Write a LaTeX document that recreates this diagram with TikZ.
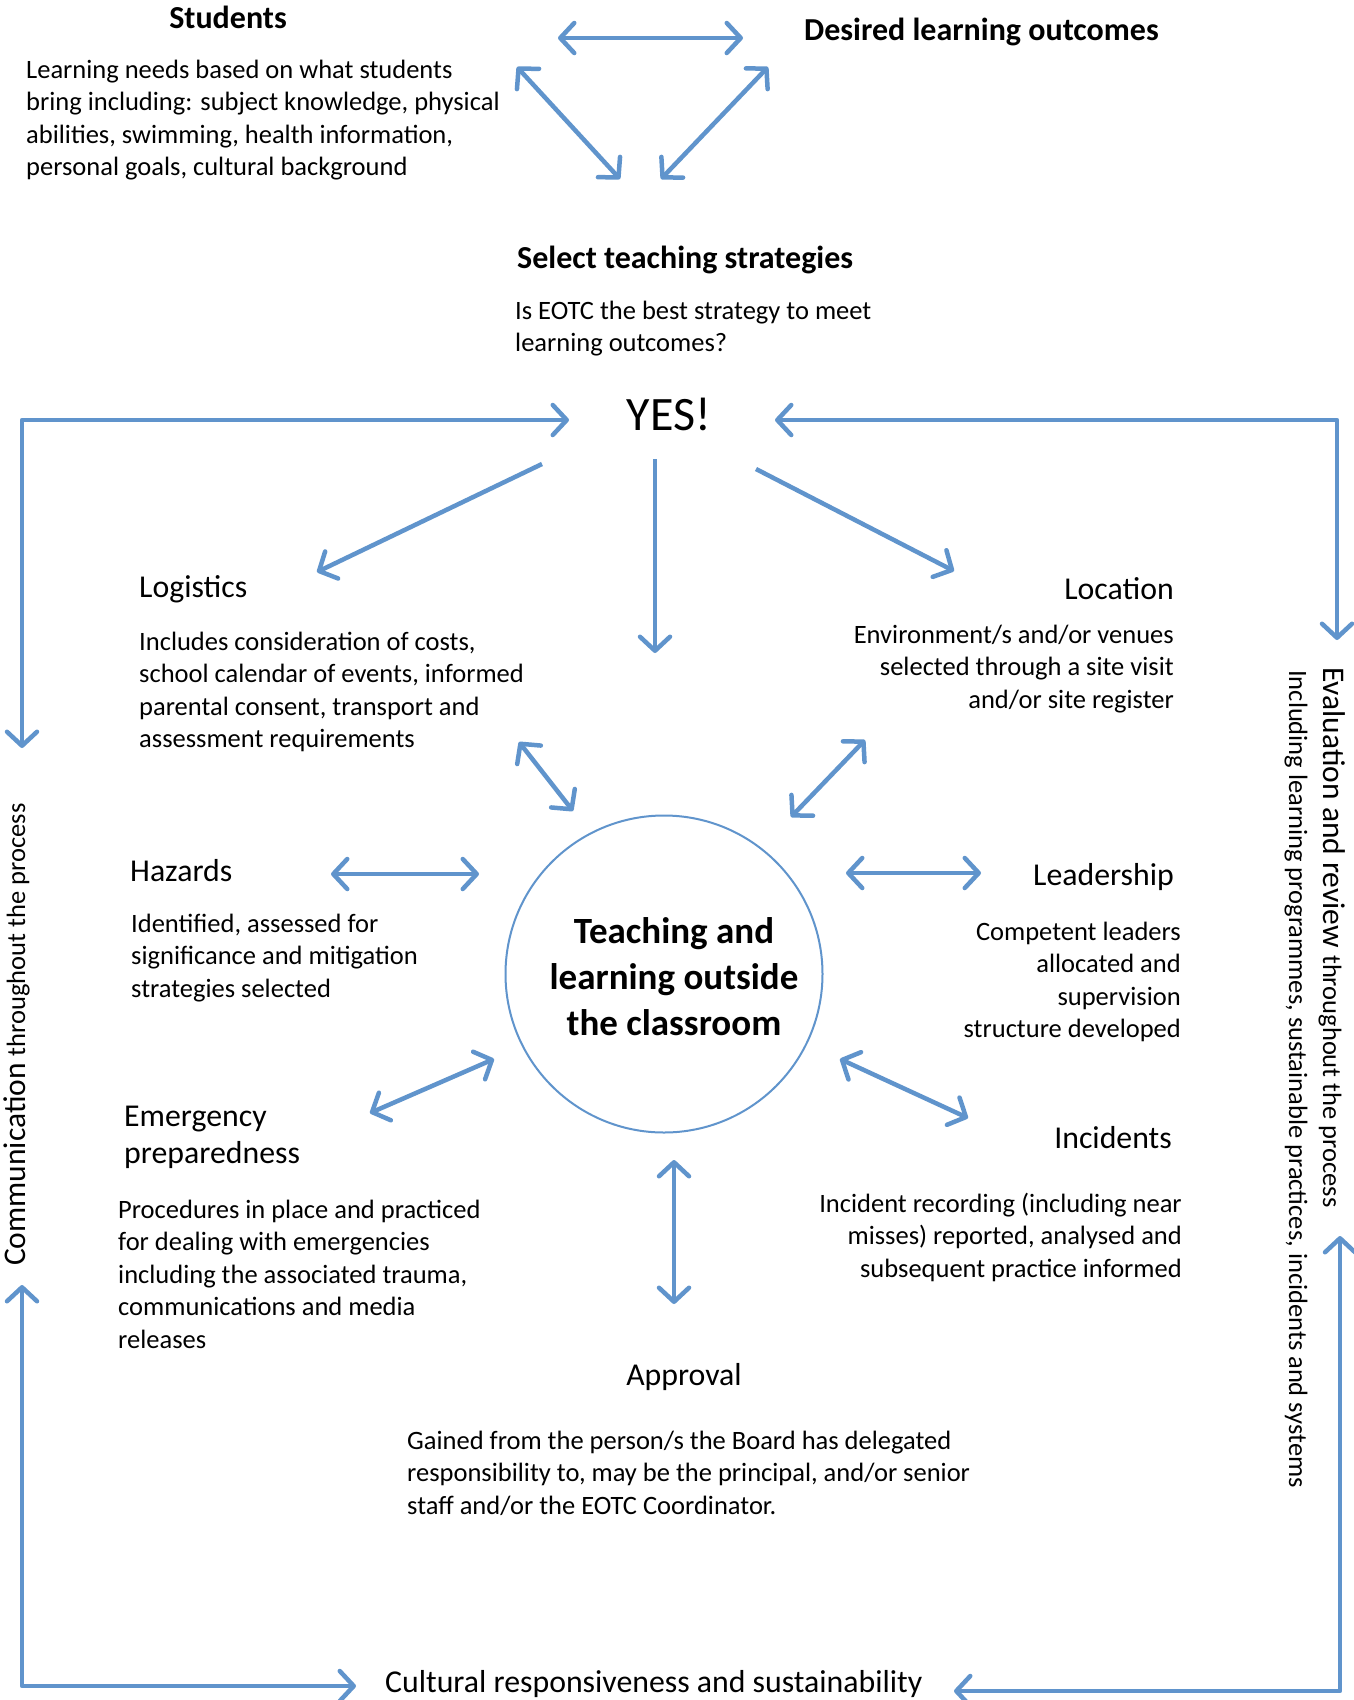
\documentclass[tikz,border=0pt]{standalone}
\usepackage{fontspec}
\setmainfont{Carlito}
\usetikzlibrary{arrows.meta}
\definecolor{arr}{RGB}{96,148,204}
\begin{document}
\begin{tikzpicture}[x=1pt,y=-1pt,
  tip/.tip={Straight Barb[length=14pt,width=30pt,round]},
  both/.style={draw=arr, line width=4.5pt, line join=round, {tip}-{tip}},
  one/.style={draw=arr, line width=4.5pt, line join=round, -{tip}},
  body/.style={font=\fontsize{26.5}{32.5}\selectfont, inner sep=0pt},
  ttl/.style={font=\fontsize{31.8}{37}\selectfont, inner sep=0pt},
  ttlb/.style={font=\fontsize{32}{37}\selectfont\bfseries, inner sep=0pt},
  yesf/.style={font=\fontsize{48}{52}\selectfont, inner sep=0pt},
  hubf/.style={font=\fontsize{37}{46}\selectfont\bfseries, inner sep=0pt}]
\fill[white] (0,0) rectangle (1354,1700);
\useasboundingbox (0,0) rectangle (1354,1700);

% ---------- texts (multi-line nodes: base = last line) ----------
\node[ttlb, anchor=base] (students) at (228,28) {Students};
\node[ttlb, anchor=base west] (desired) at (804,40) {Desired learning outcomes};
\node[body, anchor=base west, align=left] (studentsbody) at (26,175.5) {Learning needs based on what students\\bring including: subject knowledge, physical\\abilities, swimming, health information,\\personal goals, cultural background};
\node[ttlb, anchor=base west] (select) at (517,268) {Select teaching strategies};
\node[body, anchor=base west, align=left] (selectbody) at (515,351.5) {Is EOTC the best strategy to meet\\learning outcomes?};
\node[yesf, anchor=base] (yes) at (669,430) {YES!};

\node[ttl, anchor=base west] (logistics) at (139,597) {Logistics};
\node[body, anchor=base west, align=left] (logbody) at (139,747.5) {Includes consideration of costs,\\school calendar of events, informed\\parental consent, transport and\\assessment requirements};
\node[ttl, anchor=base east] (location) at (1174,599) {Location};
\node[body, anchor=base east, align=right] (locbody) at (1174,708) {Environment/s and/or venues\\selected through a site visit\\and/or site register};

\node[ttl, anchor=base west] (hazards) at (130,881) {Hazards};
\node[body, anchor=base west, align=left] (hazbody) at (131,997) {Identified, assessed for\\significance and mitigation\\strategies selected};
\node[ttl, anchor=base east] (leadership) at (1174,885) {Leadership};
\node[body, anchor=base east, align=right] (leadbody) at (1181,1037.5) {Competent leaders\\allocated and\\supervision\\structure developed};

\node[ttl, anchor=base west, align=left] (emergency) at (124,1163) {Emergency\\preparedness};
\node[body, anchor=base west, align=left] (emerbody) at (118,1348) {Procedures in place and practiced\\for dealing with emergencies\\including the associated trauma,\\communications and media\\releases};
\node[ttl, anchor=base east] (incidents) at (1172,1148) {Incidents};
\node[body, anchor=base east, align=right] (incbody) at (1182,1277) {Incident recording (including near\\misses) reported, analysed and\\subsequent practice informed};

\node[ttl, anchor=base] (approval) at (684,1385) {Approval};
\node[body, anchor=base west, align=left] (appbody) at (407,1514) {Gained from the person/s the Board has delegated\\responsibility to, may be the principal, and/or senior\\staff and/or the EOTC Coordinator.};
\node[ttl, anchor=base west] (cultural) at (385,1692) {Cultural responsiveness and sustainability};

\node[rotate=90, anchor=base west, inner sep=0pt] (comm) at (25,1266) {\fontsize{31.5}{37}\selectfont Communication \fontsize{26.5}{32}\selectfont throughout the process};
\node[rotate=-90, anchor=base west, inner sep=0pt] (eval) at (1323,667) {\fontsize{31.5}{37}\selectfont Evaluation and review \fontsize{26.5}{32}\selectfont throughout the process};
\node[body, rotate=-90, anchor=base west] (evalsub) at (1289,670) {Including learning programmes, sustainable practices, incidents and systems};

% ---------- hub ----------
\node[circle, draw=arr, line width=2pt, minimum size=317pt, inner sep=0pt] (hub) at (664,974) {};
\node[hubf, align=center] (hubtext) at (674,977) {Teaching and\\learning outside\\the classroom};

% ---------- connector ends ----------
\coordinate (s1) at (558,38);  \coordinate (s2) at (743,38);
\coordinate (l1) at (517,67);  \coordinate (l2) at (620,179);
\coordinate (r1) at (768,67);  \coordinate (r2) at (661,179);
\coordinate (cl1) at (22,748); \coordinate (cl2) at (569,420);
\coordinate (cr1) at (775,420); \coordinate (cr2) at (1337,640);
\coordinate (bl1) at (22,1285); \coordinate (bl2) at (356,1686);
\coordinate (br1) at (1340,1236); \coordinate (br2) at (954,1691);
\coordinate (y1) at (542,464); \coordinate (y1e) at (317,572);
\coordinate (y2) at (655,459); \coordinate (y2e) at (655,653);
\coordinate (y3) at (756,469); \coordinate (y3e) at (954,571);
\coordinate (lg1) at (519,742); \coordinate (lg2) at (573,811);
\coordinate (lc1) at (865,740); \coordinate (lc2) at (791,817);
\coordinate (hz1) at (331,874); \coordinate (hz2) at (479,874);
\coordinate (ld1) at (846,873); \coordinate (ld2) at (981,873);
\coordinate (em1) at (370,1113); \coordinate (em2) at (494,1059);
\coordinate (in1) at (840,1059); \coordinate (in2) at (968,1118);
\coordinate (ap1) at (674,1160); \coordinate (ap2) at (674,1304);

% ---------- connectors ----------
\draw[both] (s1) -- (s2);
\draw[both] (l1) -- (l2);
\draw[both] (r1) -- (r2);
\draw[both] (cl1) |- (cl2);
\draw[both] (cr1) -| (cr2);
\draw[both] (bl1) |- (bl2);
\draw[both] (br1) |- (br2);
\draw[one] (y1) -- (y1e);
\draw[one] (y2) -- (y2e);
\draw[one] (y3) -- (y3e);
\draw[both] (lg1) -- (lg2);
\draw[both] (lc1) -- (lc2);
\draw[both] (hz1) -- (hz2);
\draw[both] (ld1) -- (ld2);
\draw[both] (em1) -- (em2);
\draw[both] (in1) -- (in2);
\draw[both] (ap1) -- (ap2);
\end{tikzpicture}
\end{document}
